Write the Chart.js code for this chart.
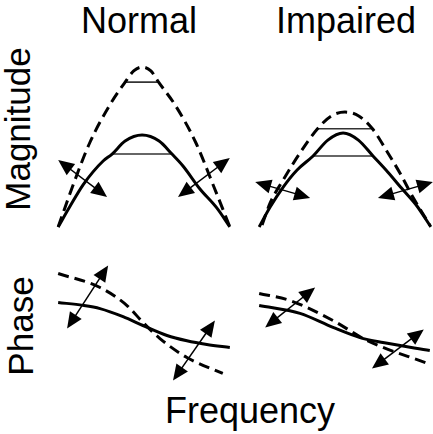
<!DOCTYPE html>
<html>
<head>
<meta charset="utf-8">
<script src="https://cdn.jsdelivr.net/npm/chart.js@4.4.1/dist/chart.umd.min.js"></script>
<style>
  html, body { margin: 0; padding: 0; background: #fff; }
  #wrap { position: relative; width: 433px; height: 434px; overflow: hidden; font-family: Arial, "Liberation Sans", sans-serif; color: #000; }
  .panel { position: absolute; }
  .lbl { position: absolute; white-space: nowrap; text-align: center; }
  .title { font-size: 36px; line-height: 36px; width: 200px; }
  .side { font-size: 35px; line-height: 34px; width: 200px; transform: rotate(-90deg); }
</style>
</head>
<body>
<div id="wrap">
  <div class="lbl title" style="left:39px; top:3px;">Normal</div>
  <div class="lbl title" style="left:246px; top:3px;">Impaired</div>
  <div class="lbl side" style="left:-82px; top:112px;">Magnitude</div>
  <div class="lbl side" style="left:-79px; top:309px;">Phase</div>
  <div class="lbl title" style="left:150px; top:393px;">Frequency</div>

  <canvas class="panel" id="magNormal" width="206" height="193" style="left:41px; top:50px;"></canvas>
  <canvas class="panel" id="magImpaired" width="206" height="193" style="left:242px; top:50px;"></canvas>
  <canvas class="panel" id="phaseNormal" width="206" height="161" style="left:41px; top:245px;"></canvas>
  <canvas class="panel" id="phaseImpaired" width="206" height="161" style="left:242px; top:245px;"></canvas>
</div>

<script>
// frequency runs 0..10 across each panel, values are in arbitrary units

// magnitude, normal ear
const magNormalSolidF = [0, 0.70, 1.45, 2.03, 2.62, 3.14, 3.90, 4.89, 5.88, 6.63, 7.27, 8.26, 9.24, 10];
const magNormalSolidV = [0, 1.30, 2.61, 3.42, 4.10, 4.53, 5.34, 5.71, 5.34, 4.53, 3.79, 2.36, 1.18, 0];
const magNormalDashF = [0, 0.87, 1.86, 3.02, 3.90, 4.40, 4.90, 5.40, 5.85, 6.80, 8.00, 9.07, 10];
const magNormalDashV = [0, 2.61, 5.28, 7.60, 9.00, 9.70, 9.94, 9.70, 9.00, 7.60, 5.28, 2.50, 0];
// bandwidth bars: [from, to, level]
const magNormalBars = [[3.90, 5.85, 9.00], [3.14, 6.63, 4.53]];
// double arrows: [f1, v1, f2, v2]
const magNormalArrows = [[0, 4.16, 2.85, 1.86], [6.98, 1.86, 10, 4.28]];

// magnitude, impaired ear
const magImpairedSolidF = [0, 0.64, 1.40, 2.21, 3.14, 4.00, 4.89, 5.78, 6.63, 7.50, 8.30, 9.19, 10];
const magImpairedSolidV = [0, 1.24, 2.48, 3.54, 4.41, 5.40, 5.84, 5.40, 4.41, 3.40, 2.40, 1.30, 0];
const magImpairedDashF = [0.17, 0.64, 1.40, 2.38, 3.40, 4.20, 5.00, 5.80, 6.60, 7.50, 8.20, 8.95, 9.95];
const magImpairedDashV = [0.12, 1.49, 2.92, 4.60, 6.10, 6.90, 7.14, 6.90, 6.10, 4.60, 3.35, 1.86, 0.10];
const magImpairedBars = [[3.40, 6.60, 6.10], [3.14, 6.63, 4.41]];
const magImpairedArrows = [[-0.23, 2.79, 2.97, 1.80], [6.92, 1.80, 10.12, 2.79]];

// phase, normal ear
const phaseNormalSolidF = [0, 1.45, 2.44, 3.78, 4.94, 6.34, 7.50, 8.66, 10];
const phaseNormalSolidV = [1.43, 1.25, 1.05, 0.55, 0, -0.62, -0.95, -1.18, -1.37];
const phaseNormalDashF = [0, 2.44, 4.01, 4.94, 5.93, 7.50, 9.59];
const phaseNormalDashV = [3.23, 2.36, 1.24, 0.19, -0.81, -1.99, -2.98];
const phaseNormalArrows = [[0.52, -0.19, 2.91, 3.73], [6.69, -3.42, 9.13, 0.31]];

// phase, impaired ear
const phaseImpairedSolidF = [0, 2.38, 4.30, 5.87, 7.21, 9.94];
const phaseImpairedSolidV = [1.24, 0.75, -0.12, -0.75, -1.06, -1.55];
const phaseImpairedDashF = [0, 1.80, 4.30, 6.28, 9.83];
const phaseImpairedDashV = [1.99, 1.55, 0.31, -0.93, -2.36];
const phaseImpairedArrows = [[0.35, -0.12, 3.26, 2.36], [6.57, -2.67, 9.59, -0.25]];


// pair up two arrays into {x, y} points
function toPoints(fs, vs) {
    return fs.map((f, i) => ({ x: f, y: vs[i] }));
}

// draws the double headed arrows using the chart scales
const arrowPlugin = {
    id: 'arrows',
    afterDatasetsDraw(chart, args, opts) {
        const ctx = chart.ctx;
        const xs = chart.scales.x;
        const ys = chart.scales.y;
        const head = 16, half = 7;
        ctx.save();
        ctx.fillStyle = '#000';
        ctx.strokeStyle = '#000';
        ctx.lineWidth = 1.5;
        (opts.list || []).forEach(a => {
            const x1 = xs.getPixelForValue(a[0]), y1 = ys.getPixelForValue(a[1]);
            const x2 = xs.getPixelForValue(a[2]), y2 = ys.getPixelForValue(a[3]);
            const len = Math.hypot(x2 - x1, y2 - y1);
            const ux = (x2 - x1) / len, uy = (y2 - y1) / len;
            // shaft between the two heads
            ctx.beginPath();
            ctx.moveTo(x1 + ux * head * 0.8, y1 + uy * head * 0.8);
            ctx.lineTo(x2 - ux * head * 0.8, y2 - uy * head * 0.8);
            ctx.stroke();
            // heads
            [[x1, y1, -1], [x2, y2, 1]].forEach(([tx, ty, s]) => {
                const bx = tx - s * ux * head, by = ty - s * uy * head;
                ctx.beginPath();
                ctx.moveTo(tx, ty);
                ctx.lineTo(bx - uy * half, by + ux * half);
                ctx.lineTo(bx + uy * half, by - ux * half);
                ctx.closePath();
                ctx.fill();
            });
        });
        ctx.restore();
    }
};

function curve(points, dashed) {
    return {
        data: points,
        borderColor: '#000',
        borderWidth: 3,
        borderDash: dashed ? [11, 6] : [],
        cubicInterpolationMode: 'monotone',
        pointRadius: 0,
        fill: false
    };
}

function bar(b) {
    return {
        data: [{ x: b[0], y: b[2] }, { x: b[1], y: b[2] }],
        borderColor: '#333',
        borderWidth: 1.6,
        pointRadius: 0,
        fill: false
    };
}

function makePanel(id, datasets, arrows, yMin, yMax) {
    new Chart(document.getElementById(id), {
        type: 'line',
        data: { datasets: datasets },
        options: {
            responsive: false,
            animation: false,
            events: [],
            layout: { padding: 0 },
            scales: {
                x: { type: 'linear', min: -1, max: 11, display: false },
                y: { type: 'linear', min: yMin, max: yMax, display: false }
            },
            plugins: {
                legend: { display: false },
                tooltip: { enabled: false },
                arrows: { list: arrows }
            }
        },
        plugins: [arrowPlugin]
    });
}

makePanel('magNormal', [
    curve(toPoints(magNormalDashF, magNormalDashV), true),
    curve(toPoints(magNormalSolidF, magNormalSolidV), false),
    ...magNormalBars.map(bar)
], magNormalArrows, -1, 11);

makePanel('magImpaired', [
    curve(toPoints(magImpairedDashF, magImpairedDashV), true),
    curve(toPoints(magImpairedSolidF, magImpairedSolidV), false),
    ...magImpairedBars.map(bar)
], magImpairedArrows, -1, 11);

makePanel('phaseNormal', [
    curve(toPoints(phaseNormalDashF, phaseNormalDashV), true),
    curve(toPoints(phaseNormalSolidF, phaseNormalSolidV), false)
], phaseNormalArrows, -5, 5);

makePanel('phaseImpaired', [
    curve(toPoints(phaseImpairedDashF, phaseImpairedDashV), true),
    curve(toPoints(phaseImpairedSolidF, phaseImpairedSolidV), false)
], phaseImpairedArrows, -5, 5);
</script>
</body>
</html>
